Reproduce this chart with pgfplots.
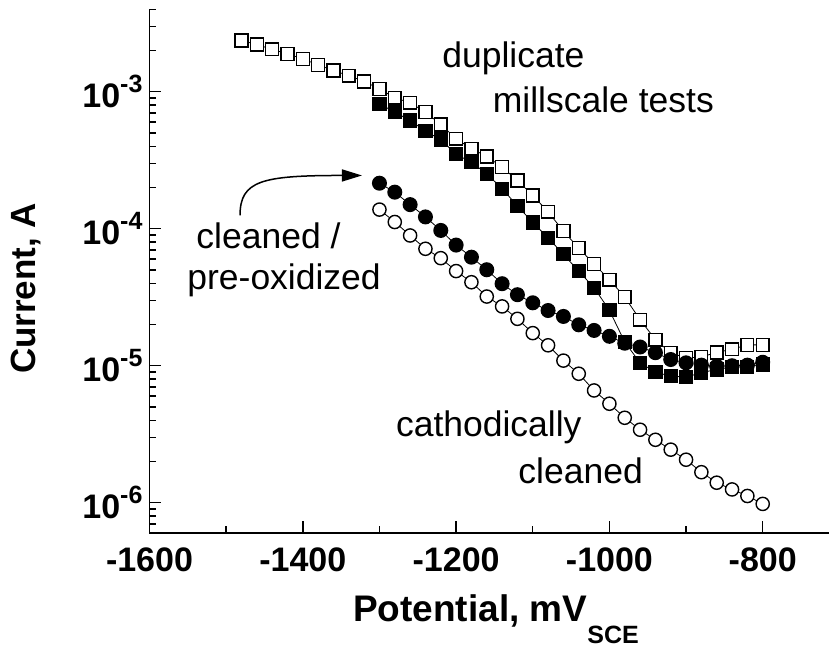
\documentclass[border=0pt]{standalone}
\usepackage{fontspec}
\setmainfont{Liberation Sans}
\usepackage{pgfplots}
\pgfplotsset{compat=1.18}
\usetikzlibrary{arrows.meta}

% power-of-ten tick label with a text hyphen in the exponent
\newcommand\dec[1]{10\raisebox{0.45em}{\fontsize{12.5}{12.5}\selectfont\bfseries #1}}

\begin{document}
\begin{tikzpicture}
\begin{axis}[
  name=ax,
  scale only axis,
  width=339.56pt, height=261.9pt,
  xmin=-1600, xmax=-714,
  ymode=log, ymin=6e-7, ymax=4e-3,
  axis lines=left,
  axis line style={-, line width=0.8pt},
  tick align=inside,
  major tick length=6pt, minor tick length=3.5pt,
  every tick/.style={black, line width=0.7pt},
  xtick={-1600,-1400,-1200,-1000,-800},
  xticklabels={-1600,-1400,-1200,-1000,-800},
  minor xtick={-1500,-1300,-1100,-900},
  ytick={1e-6,1e-5,1e-4,1e-3},
  yticklabels={\dec{-6},\dec{-5},\dec{-4},\dec{-3}},
  minor ytick={7e-7,8e-7,9e-7,
    2e-6,3e-6,4e-6,5e-6,6e-6,7e-6,8e-6,9e-6,
    2e-5,3e-5,4e-5,5e-5,6e-5,7e-5,8e-5,9e-5,
    2e-4,3e-4,4e-4,5e-4,6e-4,7e-4,8e-4,9e-4,
    2e-3,3e-3,4e-3},
  ticklabel style={font=\fontsize{17}{17}\selectfont\bfseries},
  xticklabel style={yshift=-3.6pt},
  xlabel={Potential, mV\raisebox{-0.58em}{\fontsize{12.5}{12.5}\selectfont\bfseries SCE}},
  ylabel={Current, A},
  ylabel style={font=\fontsize{17.5}{17.5}\selectfont\bfseries,
    at={(axis description cs:-0.1819,0.4673)}, anchor=center},
  xlabel style={font=\fontsize{18.5}{18.5}\selectfont\bfseries,
    at={(axis description cs:0.5102,-0.1691)}, anchor=base},
  clip=false,
  every axis plot/.append style={black, line width=0.4pt},
]

% duplicate millscale test 1
\addplot[mark=square*, mark size=3.2pt, mark options={solid, fill=white, line width=0.7pt}] table {
-1480 2.37e-3
-1460 2.21e-3
-1440 2.04e-3
-1420 1.89e-3
-1400 1.74e-3
-1380 1.57e-3
-1360 1.43e-3
-1340 1.31e-3
-1320 1.19e-3
-1300 1.05e-3
-1280 9.04e-4
-1260 8.31e-4
-1240 7.10e-4
-1220 5.77e-4
-1200 4.54e-4
-1180 3.84e-4
-1160 3.37e-4
-1140 2.82e-4
-1120 2.25e-4
-1100 1.75e-4
-1080 1.33e-4
-1060 9.6e-5
-1040 7.22e-5
-1020 5.52e-5
-1000 4.25e-5
-980 3.17e-5
-960 2.17e-5
-940 1.55e-5
-920 1.24e-5
-900 1.14e-5
-880 1.16e-5
-860 1.25e-5
-840 1.32e-5
-820 1.42e-5
-800 1.42e-5
};

% duplicate millscale test 2
\addplot[mark=square*, mark size=3.2pt, mark options={solid, fill=black, line width=0.7pt}] table {
-1300 8.17e-4
-1280 7.10e-4
-1260 6.18e-4
-1240 5.16e-4
-1220 4.48e-4
-1200 3.49e-4
-1180 3.06e-4
-1160 2.52e-4
-1140 1.96e-4
-1120 1.47e-4
-1100 1.11e-4
-1080 8.6e-5
-1060 6.5e-5
-1040 4.9e-5
-1020 3.71e-5
-1000 2.54e-5
-980 1.49e-5
-960 1.05e-5
-940 8.98e-6
-920 8.4e-6
-900 8.26e-6
-880 8.9e-6
-860 9.4e-6
-840 9.8e-6
-820 9.8e-6
-800 1.02e-5
};

% cleaned / pre-oxidized
\addplot[mark=*, mark size=3.4pt, mark options={solid, fill=black, line width=0.7pt}] table {
-1300 2.15e-4
-1280 1.85e-4
-1260 1.50e-4
-1240 1.22e-4
-1220 9.72e-5
-1200 7.6e-5
-1180 6.2e-5
-1160 5.02e-5
-1140 3.97e-5
-1120 3.3e-5
-1100 2.88e-5
-1080 2.53e-5
-1060 2.29e-5
-1040 1.99e-5
-1020 1.81e-5
-1000 1.64e-5
-980 1.46e-5
-960 1.37e-5
-940 1.245e-5
-920 1.11e-5
-900 1.05e-5
-880 1.01e-5
-860 9.9e-6
-840 1.0e-5
-820 1.01e-5
-800 1.06e-5
};

% cathodically cleaned
\addplot[mark=*, mark size=3.3pt, mark options={solid, fill=white, line width=0.7pt}] table {
-1300 1.38e-4
-1280 1.12e-4
-1260 8.93e-5
-1240 7.14e-5
-1220 6.1e-5
-1200 4.91e-5
-1180 4.07e-5
-1160 3.2e-5
-1140 2.71e-5
-1120 2.2e-5
-1100 1.73e-5
-1080 1.41e-5
-1060 1.09e-5
-1040 8.74e-6
-1020 6.6e-6
-1000 5.28e-6
-980 4.17e-6
-960 3.41e-6
-940 2.88e-6
-920 2.44e-6
-900 2.06e-6
-880 1.67e-6
-860 1.40e-6
-840 1.25e-6
-820 1.12e-6
-800 9.8e-7
};

% annotations
\begin{scope}[every node/.style={inner sep=0pt, anchor=base west, font=\fontsize{17.75}{17.75}\selectfont}]
\node at (axis cs:-1218.4,1.504e-3) {duplicate};
\node at (axis cs:-1152.5,7.02e-4) {millscale tests};
\node at (axis cs:-1539.3,7.15e-5) {cleaned /};
\node at (axis cs:-1551.1,3.61e-5) {pre-oxidized};
\node at (axis cs:-1278.9,3.05e-6) {cathodically};
\node at (axis cs:-1119.2,1.377e-6) {cleaned};
\end{scope}
\draw[line width=0.75pt, -{Triangle[length=10pt,width=6pt]}]
  (axis cs:-1481.9,1.25e-4) .. controls (axis cs:-1481.9,2.253e-4) and (axis cs:-1453.2,2.449e-4)
  .. (axis cs:-1322.8,2.449e-4);
\end{axis}
\pgfresetboundingbox
\path[use as bounding box] ([shift={(-74.75pt,-58.95pt)}]ax.south west) rectangle ([shift={(340.25pt,266.55pt)}]ax.south west);
\end{tikzpicture}
\end{document}
